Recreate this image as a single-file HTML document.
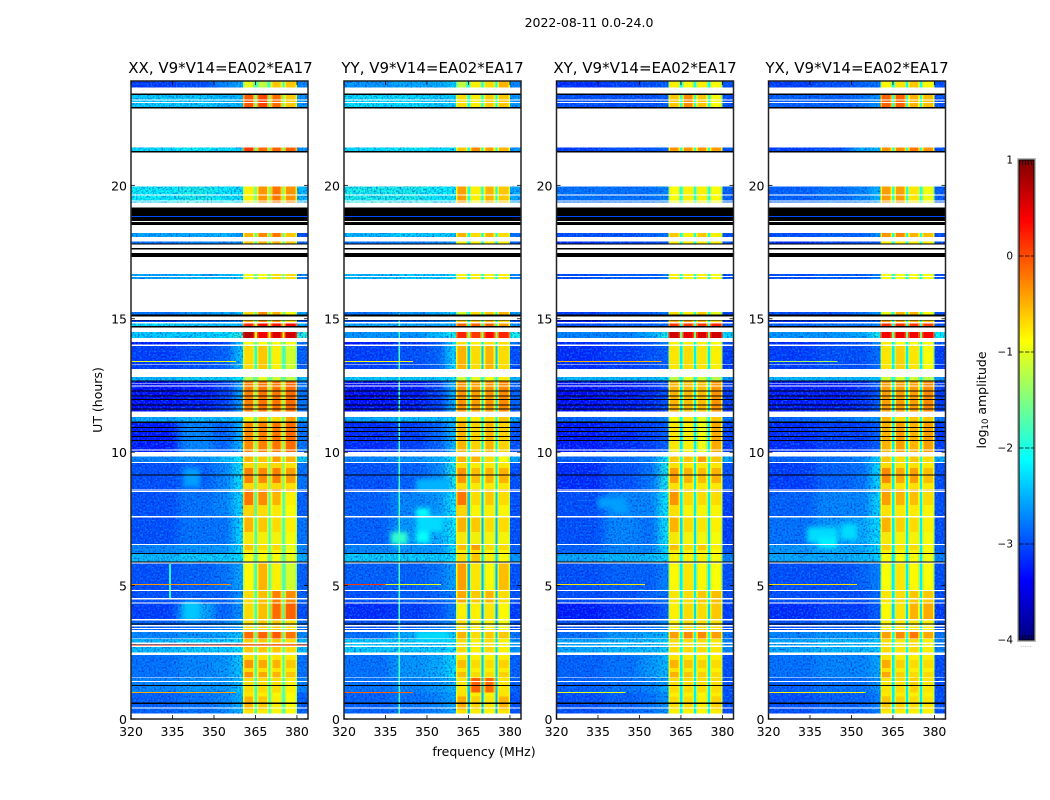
<!DOCTYPE html>
<html lang="en">
<head>
<meta charset="utf-8">
<title>2022-08-11 amplitude waterfall</title>
<style>
html,body{margin:0;padding:0;background:#fff;width:1050px;height:800px;overflow:hidden}
svg{display:block}
text{font-family:"DejaVu Sans","Liberation Sans",sans-serif;fill:#000}
</style>
</head>
<body>
<svg id="chart" xmlns="http://www.w3.org/2000/svg" width="1050" height="800" viewBox="0 0 1050 800">
<defs>
<filter id="speckle" filterUnits="objectBoundingBox" x="0" y="0" width="1" height="1" color-interpolation-filters="sRGB">
<feGaussianBlur in="SourceGraphic" stdDeviation="5 0" result="b"/>
<feComponentTransfer in="b" result="solid"><feFuncA type="linear" slope="40"/></feComponentTransfer>
<feTurbulence type="fractalNoise" baseFrequency="0.55" numOctaves="1" seed="4" result="n"/>
<feColorMatrix in="n" type="matrix" values="0 0 0 0 0  0 0 0 0 0.1  0 0 0 0 0.8  2.2 0 0 0 -1" result="dark"/>
<feColorMatrix in="n" type="matrix" values="0 0 0 0 0  0 0 0 0 0.65  0 0 0 0 1  0 2.2 0 0 -1.05" result="light"/>
<feMerge result="m"><feMergeNode in="solid"/><feMergeNode in="dark"/><feMergeNode in="light"/></feMerge>
<feComposite in="m" in2="solid" operator="in"/>
</filter>
<filter id="soften" x="-40%" y="-40%" width="180%" height="180%" color-interpolation-filters="sRGB">
<feGaussianBlur stdDeviation="2.5"/>
</filter>
</defs>
<text x="589" y="27" font-size="12.5" text-anchor="middle">2022-08-11 0.0-24.0</text>
<text x="484" y="756" font-size="12.5" text-anchor="middle">frequency (MHz)</text>
<text x="0" y="0" font-size="12.5" text-anchor="middle" transform="translate(102,400) rotate(-90)">UT (hours)</text>
<text x="0" y="0" font-size="12.5" text-anchor="middle" transform="translate(986,400) rotate(-90)">log<tspan font-size="8.5" dy="2">10</tspan><tspan dy="-2"> amplitude</tspan></text>
<text x="1026" y="647" font-size="6" fill="#888" text-anchor="middle" style="fill:#888">......</text>
</svg>
<script>
// ---------- chart data ----------
const polarizations = ['XX', 'YY', 'XY', 'YX'];
const baselineLabel = 'V9*V14=EA02*EA17';
const freqTicks = [320, 335, 350, 365, 380];
const hourTicks = [0, 5, 10, 15, 20];
const colorTicks = [1, 0, -1, -2, -3, -4];
// frequency columns (MHz)
const bgEdges = [320, 337, 350, 357, 360.5];
const bandEdges = [[360.5, 364.7], [365.5, 369.7], [370.5, 374.7], [375.5, 380]];
const tailEdges = [380, 384];
// observed time blocks (UT hours)
const blockTop = [23.91,23.45,21.41,19.98,18.22,17.89,16.68,15.25,14.94,14.82,14.51,14.13,13.98,12.82,12.68,11.32,11.13,9.83,9.60,8.51,7.56,6.52,6.18,5.82,4.84,4.32,3.70,3.26,2.99,2.40,1.53,0.99];
const blockBottom = [23.66,22.90,21.25,19.35,18.07,17.80,16.49,15.09,14.87,14.68,14.28,13.98,13.05,12.68,11.52,11.13,10.01,9.60,8.51,7.56,6.52,6.18,5.82,4.84,4.32,3.70,3.26,2.99,2.40,1.53,0.99,0.21];
// log10 amplitude per block: left, mid, right, ramp, band1..band4, tail, notch
const levelsXX = [
[-3.1,-3,-2.7,-2.5,-1,-1.2,-.6,-.6,-2.7,-1.8],
[-2.3,-2.3,-2.4,-2.4,-.05,.05,-.15,-.6,-2.6,-1.5],
[-2.2,-2.1,-2.2,-2.2,.1,-.15,-.1,-.1,-2.6,-1.6],
[-2.1,-2,-2.1,-2.2,-.8,-.35,-.2,-.35,-2.4,-1.5],
[-2.5,-2.5,-2.4,-2.6,-.5,-.3,-.2,-.6,-3,-1.7],
[-2.8,-2.7,-2.7,-2.6,-.6,-.5,-.5,-.6,-2.9,-1.8],
[-2.5,-2.4,-2.4,-2.3,-.9,-.9,-.7,-.7,-2.7,-1.6],
[-2.8,-2.6,-2.5,-2.3,-.7,-.3,-.5,-.9,-2.5,-1.6],
[-3.1,-2.9,-2.8,-2.6,-.5,-.3,-.4,-.7,-3,-1.8],
[-2.2,-2.3,-2.4,-2.4,.2,.35,.3,.35,-2.5,-1.3],
[-2.3,-2.3,-2.2,-1.9,.75,.45,.55,.6,-1.9,-1],
[-3.3,-3.2,-3.1,-2.2,-.9,-.9,-.9,-.9,-2.8,-1.6],
[-3.1,-3,-2.9,-2.3,-.7,-.6,-.8,-1.1,-2.9,-1.9],
[-2.4,-2.3,-2.3,-2.1,-1.2,-1,-1.1,-1.2,-2.4,-1.6],
[-3.4,-3.3,-3.1,-2.5,-.25,-.2,-.2,-.15,-2.8,-1.4],
[-2.5,-2.4,-2.4,-2.3,-.8,-.6,-.7,-.4,-2.4,-1.7],
[-3.3,-2.7,-2.9,-2.4,-.3,-.25,-.2,-.15,-2.8,-1.5],
[-2.7,-2.6,-2.4,-2.1,-.5,-.6,-.4,-.5,-2.3,-1.6],
[-3,-2.9,-2.7,-2.1,-.25,-.3,-.25,-.4,-2.8,-1.6],
[-3,-2.8,-2.7,-2.2,-.2,-.3,-.5,-.8,-2.9,-1.8],
[-3,-2.8,-2.8,-2.2,-.5,-.6,-.7,-.8,-2.8,-1.8],
[-2.7,-2.6,-2.6,-2.2,-.6,-.7,-.7,-1,-2.7,-1.7],
[-2.4,-2.3,-2.3,-2.2,-.9,-.9,-.9,-1,-2.5,-1.7],
[-3,-2.9,-2.8,-2.5,-.85,-.5,-.8,-1.1,-2.9,-1.8],
[-3,-2.9,-2.9,-2.6,-.7,-.55,-.25,-.3,-2.9,-1.8],
[-3.1,-2.5,-2.9,-2.6,-.7,-.55,-.15,-.1,-3,-1.8],
[-2.9,-2.8,-2.7,-2.5,-.7,-.6,-.6,-.7,-2.8,-1.8],
[-2.7,-2.6,-2.5,-2.3,-.15,-.1,-.05,-.2,-2.7,-1.7],
[-2.4,-2.3,-2.3,-2.2,-.6,-.6,-.6,-.7,-2.4,-1.7],
[-2.8,-2.7,-2.6,-2.3,-.35,-.45,-.5,-.6,-2.8,-1.8],
[-2.7,-2.6,-2.6,-2.3,-.7,-.7,-.7,-.8,-2.7,-1.8],
[-2.9,-2.8,-2.7,-2.4,-.5,-.6,-.8,-.9,-2.9,-1.8]];
const levelsYY = [
[-2.6,-2.5,-2.5,-2.3,-1.2,-.8,-.7,-.5,-2.7,-2],
[-2.2,-2.2,-2.3,-2.3,-.7,-.8,-.6,-.6,-2.6,-2],
[-2.2,-2.1,-2.2,-2.2,-.6,-.3,-.4,-.5,-2.6,-2],
[-2,-2,-2.1,-2.1,-.4,-.8,-.5,-.6,-2.5,-2],
[-2.4,-2.3,-2.3,-2.3,-.5,-.7,-.5,-.7,-2.8,-2.1],
[-2.8,-2.7,-2.7,-2.6,-.8,-.8,-.8,-.8,-2.9,-2.2],
[-2.4,-2.3,-2.3,-2.2,-.8,-.8,-.8,-.8,-2.7,-2.1],
[-2.8,-2.6,-2.5,-2.3,-1.1,-.7,-.6,-.5,-2.6,-2],
[-3,-2.9,-2.8,-2.6,-.6,-.6,-.5,-.7,-3,-2.2],
[-2.5,-2.5,-2.5,-2.4,-.1,-.1,-.1,-.4,-2.6,-2],
[-2.6,-2.6,-2.4,-2,.2,.1,.35,.2,-2,-1.4],
[-3.3,-3.2,-3,-2.2,-.7,-.8,-.7,-.7,-2.8,-2.2],
[-3.1,-3,-2.9,-2.2,-.5,-.7,-.5,-.7,-3,-2.4],
[-2.3,-2.3,-2.3,-2.1,-1.1,-1,-.9,-.8,-2.4,-2],
[-3.4,-3.3,-3.1,-2.4,-.35,-.4,-.35,-.3,-2.9,-2.2],
[-2.5,-2.4,-2.4,-2.3,-.7,-.8,-.7,-.6,-2.5,-2.1],
[-3.2,-3.1,-2.9,-2.4,-.5,-.65,-.5,-.65,-3,-2.2],
[-2.7,-2.6,-2.5,-2.1,-.5,-.5,-.7,-.9,-2.5,-2],
[-3,-2.9,-2.7,-2,-.35,-.55,-.5,-.5,-3,-2.2],
[-2.9,-2.7,-2.6,-2.1,-.2,-.7,-.6,-.7,-3,-2.4],
[-2.9,-2.6,-2.5,-2.1,-.5,-.6,-.7,-.7,-3,-2.5],
[-2.7,-2.6,-2.6,-2.2,-.55,-.4,-.7,-.7,-2.9,-2.3],
[-2.3,-2.3,-2.3,-2.2,-.7,-.6,-.8,-.9,-2.6,-2.3],
[-2.9,-2.9,-2.8,-2.5,-.4,-.75,-.85,-.55,-3,-2.5],
[-3,-2.9,-2.9,-2.7,-.45,-.6,-.5,-.7,-3,-2.5],
[-3.2,-3.1,-3,-2.7,-.8,-.8,-.75,-.85,-3.1,-2.6],
[-3,-2.9,-2.8,-2.6,-.7,-.8,-.8,-.9,-3,-2.5],
[-2.8,-2.5,-2.4,-2.3,-.5,-.7,-.6,-.6,-2.8,-2.4],
[-2.3,-2.3,-2.3,-2.2,-.7,-.8,-.7,-.8,-2.6,-2.3],
[-2.8,-2.6,-2.5,-2.2,-.55,-.7,-.7,-.65,-2.9,-2.4],
[-2.8,-2.7,-2.6,-2.4,-.75,-.1,-.15,-.75,-2.9,-2.4],
[-2.9,-2.8,-2.7,-2.5,-.45,-.65,-.75,-.5,-3,-2.5]];
const levelsXY = [
[-3.2,-3.1,-3,-2.9,-.8,-.9,-.8,-.9,-3,-2],
[-3,-3,-3,-2.9,-.6,-.3,-.6,-.9,-3,-1.9],
[-3.1,-3,-3,-2.9,-.35,-.35,-.35,-.4,-3,-1.9],
[-2.8,-2.8,-2.8,-2.7,-.9,-.8,-.8,-.9,-2.9,-1.9],
[-3,-3,-2.9,-2.8,-.6,-.8,-.6,-.8,-3,-2],
[-3.2,-3.1,-3,-3,-.8,-.8,-.8,-.8,-3,-2],
[-3,-2.9,-2.9,-2.8,-.8,-.8,-.8,-.9,-3,-2],
[-3.1,-3,-2.9,-2.8,-.7,-.8,-.6,-1,-3,-2],
[-3.3,-3.1,-3.1,-2.9,-.5,-.4,-.5,-.7,-3.2,-2.1],
[-3,-2.9,-2.9,-2.8,.1,.1,.1,.2,-3,-2],
[-2.7,-2.7,-2.5,-2,.6,.5,.55,.6,-2.2,-1.6],
[-3.2,-3.1,-3,-2.7,-.8,-.8,-.8,-.9,-3,-2.1],
[-3.2,-3.1,-3,-2.9,-.75,-.7,-.75,-.8,-3.1,-2.2],
[-2.4,-2.4,-2.4,-2.3,-1.2,-1,-1.1,-1.2,-2.6,-2],
[-3.4,-3.3,-3.2,-3,-.5,-.55,-.55,-.35,-3.1,-2.2],
[-2.9,-2.8,-2.8,-2.7,-.9,-.75,-1,-.6,-2.8,-2.1],
[-3.3,-3.2,-3.1,-2.9,-.75,-.8,-.95,-.45,-3.1,-2.2],
[-2.9,-2.8,-2.7,-2.1,-.6,-.6,-.4,-.6,-2.5,-2],
[-3.2,-3,-2.8,-2,-.4,-.5,-.55,-.5,-3,-2.2],
[-3,-2.7,-2.7,-2.1,-.35,-.7,-.7,-.7,-3.1,-2.2],
[-3,-2.7,-2.8,-2.1,-.5,-.7,-.75,-.8,-3.1,-2.3],
[-2.9,-2.7,-2.7,-2.2,-.55,-.7,-.6,-.8,-3,-2.2],
[-2.5,-2.4,-2.4,-2.2,-.8,-.8,-.8,-.9,-2.7,-2.1],
[-3,-2.9,-2.9,-2.7,-.85,-.75,-.85,-.9,-3,-2.2],
[-3,-3,-2.9,-2.8,-.75,-.7,-.6,-.55,-3,-2.2],
[-3.3,-3.2,-3.1,-2.9,-.8,-.7,-.7,-.6,-3.1,-2.3],
[-3,-2.9,-2.8,-2.7,-.8,-.7,-.7,-.7,-3,-2.2],
[-2.8,-2.6,-2.5,-2.4,-.4,-.3,-.3,-.4,-2.8,-2.1],
[-2.5,-2.4,-2.4,-2.3,-.7,-.7,-.7,-.75,-2.7,-2.1],
[-2.9,-2.8,-2.6,-2.4,-.5,-.6,-.65,-.7,-3,-2.2],
[-2.9,-2.8,-2.7,-2.5,-.7,-.7,-.7,-.7,-3,-2.2],
[-3,-2.9,-2.8,-2.6,-.7,-.7,-.8,-.65,-3,-2.2]];
const levelsYX = [
[-3.1,-3,-2.9,-2.8,-.85,-.75,-.6,-.85,-3,-2],
[-2.9,-2.9,-2.8,-2.6,-.1,-.1,-.5,-.55,-3,-1.9],
[-3.1,-3,-2.5,-2.4,-.35,-.3,-.2,-.35,-3,-1.9],
[-2.9,-2.8,-2.7,-2.4,-.4,-.4,-.75,-.95,-2.9,-1.9],
[-3,-2.9,-2.9,-2.6,-.35,-.3,-.5,-.55,-3,-2],
[-3.2,-3.1,-3,-2.9,-.8,-.8,-.8,-.8,-3,-2],
[-3,-2.9,-2.9,-2.7,-.9,-.9,-.9,-.9,-3,-2],
[-3,-3,-2.8,-2.6,-1,-.5,-.5,-.9,-3,-2],
[-3.2,-3.1,-3,-2.9,-.4,-.4,-.5,-.6,-3.1,-2.1],
[-2.9,-2.8,-2.8,-2.7,.15,.15,.1,.05,-3,-2],
[-2.6,-2.6,-2.5,-2,.4,.45,.45,.4,-2.1,-1.6],
[-3.2,-3.1,-3,-2.6,-.8,-.9,-.9,-.9,-3,-2.1],
[-3.1,-3,-3,-2.8,-.75,-.65,-.75,-.9,-3.1,-2.2],
[-2.4,-2.4,-2.4,-2.3,-1.1,-1.05,-1.1,-1.2,-2.6,-2],
[-3.3,-3.3,-3.2,-2.9,-.4,-.4,-.4,-.3,-3.1,-2.2],
[-2.9,-2.8,-2.7,-2.6,-.5,-.7,-.6,-.6,-2.8,-2],
[-3.2,-3.1,-3.1,-2.9,-.5,-.4,-.5,-.4,-3.1,-2.2],
[-2.9,-2.8,-2.7,-2.2,-.6,-.7,-.6,-.7,-2.5,-2],
[-3.1,-2.9,-2.8,-2.2,-.3,-.45,-.4,-.55,-3,-2.2],
[-2.9,-2.7,-2.7,-2.2,-.4,-.5,-.55,-.7,-3,-2.2],
[-2.8,-2.6,-2.5,-2.2,-.5,-.65,-.7,-.8,-3,-2.2],
[-2.6,-2.5,-2.5,-2.2,-.65,-.75,-.7,-.85,-2.9,-2.2],
[-2.5,-2.5,-2.4,-2.3,-.9,-.9,-.9,-.95,-2.7,-2.2],
[-3,-3,-2.9,-2.7,-.9,-.75,-.85,-.9,-3,-2.2],
[-3,-3,-3,-2.8,-.75,-.7,-.6,-.6,-3,-2.2],
[-3.2,-3.1,-3.1,-2.9,-.85,-.75,-.5,-.45,-3.1,-2.3],
[-3,-2.9,-2.9,-2.7,-.8,-.75,-.75,-.8,-3,-2.2],
[-2.7,-2.6,-2.6,-2.5,-.4,-.3,-.2,-.45,-2.8,-2.1],
[-2.5,-2.4,-2.4,-2.3,-.7,-.75,-.7,-.8,-2.7,-2.1],
[-2.8,-2.7,-2.7,-2.5,-.45,-.65,-.7,-.7,-3,-2.2],
[-2.9,-2.8,-2.8,-2.6,-.75,-.7,-.65,-.75,-3,-2.2],
[-3,-2.9,-2.9,-2.7,-.6,-.65,-.7,-.75,-3,-2.2]];
const panelLevels = [levelsXX, levelsYY, levelsXY, levelsYX];
// dimmer (yellow) time intervals inside the passbands
const dimTop = [9.6,8.85,8.02,7.0,6.33,2.4,1.91,0.99,0.35];
const dimBottom = [9.41,8.62,7.61,6.56,6.22,2.21,1.76,0.85,0.21];
const dimValue = [-.9,-.9,-.9,-.95,-.9,-.85,-.85,-.85,-.85];
// flagged (white) intervals, hours
const gapTop = [23.66,23.22,23.12,22.9,21.25,19.96,19.65,19.43,19.35,18.67,18.52,18.07,17.78,17.6,17.32,16.6,16.49,15.09,14.87,14.68,14.28,14.03,13.29,13.11,13.05,12.57,12.5,11.52,10.1,10.01,9.64,8.6,8.54,7.61,6.56,5.88,4.84,4.54,4.48,4.36,3.74,3.52,3.41,3.34,3.02,2.86,2.76,2.49,1.56,1.42,0.44,0.21];
const gapBottom = [23.45,23.18,23.08,21.41,19.98,19.93,19.62,19.4,19.16,18.63,18.22,17.89,17.66,17.47,16.68,16.57,15.25,14.94,14.82,14.51,14.13,13.98,13.26,13.05,12.82,12.55,12.47,11.32,10.06,9.83,9.6,8.57,8.51,7.56,6.52,5.82,4.8,4.5,4.46,4.32,3.7,3.47,3.37,3.26,2.99,2.82,2.69,2.4,1.53,1.39,0.4,0];
// zero-amplitude (black) intervals, hours
const nullTop = [23.45,22.93,21.28,19.16,18.82,18.63,17.82,17.66,17.47,15.15,14.96,14.73,12.68,12.31,12.13,12,11.78,11.63,11.14,10.95,10.79,10.6,10.46,9.17,6.22,5.9,3.58,1.28,0.61];
const nullBottom = [23.39,22.88,21.23,18.85,18.67,18.52,17.78,17.6,17.32,15.08,14.93,14.68,12.64,12.27,12.09,11.96,11.74,11.59,11.1,10.91,10.75,10.56,10.42,9.13,6.18,5.86,3.54,1.24,0.57];
// thin RFI streaks: panel, hour, f0, f1, value
const streakPanel = [0,0,0,0,1,1,1,1,2,2,2,3,3,3,0,1,2,3];
const streakHour = [5.04,1,13.39,2.77,5.04,5.04,1,13.39,5.04,13.39,1,5.04,1,13.39,18.84,18.84,18.84,18.84];
const streakStart = [320,320,320,320,320,335,320,320,320,320,320,320,320,320,320,320,320,320];
const streakEnd = [356,358,358,384,335,355,345,345,352,358,345,352,355,345,384,384,384,384];
const streakValue = [-.35,-.45,-1,.2,.1,-1,-.1,-.9,-.75,-.5,-1,-.7,-.8,-1.3,-3,-3,-3,-3];
// localized features: panel, f0, f1, top hour, bottom hour, value
const featPanel = [0,0,0,1,1,1,1,1,1,2,2,3,3,3];
const featF0 = [333.8,339,339,339.7,337,346,346,346,346,340,335,334,338,346];
const featF1 = [334.4,345,345,340.3,343,351,358,356,358,346,345,345,345,352];
const featTop = [5.8,4.4,9.4,15.2,7,7.9,3.3,7.6,9,8,8.3,7.2,6.8,7.3];
const featBottom = [4.5,3.7,8.7,0.2,6.55,6.6,2.9,7,8.5,7.7,7.9,6.6,6.4,6.7];
const featValue = [-2,-2.4,-2.6,-1.8,-1.9,-2.1,-2.3,-2.3,-2.5,-2.6,-2.6,-2.3,-2.2,-2.3];
// ---------- layout ----------
const panelLeft = [131, 344, 556.5, 768.5];
const panelWidth = 177, plotTop = 81, plotBottom = 719, hoursPerPanel = 23.91;
const cbarLeft = 1019, cbarRight = 1034, cbarTop = 160, cbarBottom = 640, vMin = -4, vMax = 1;
const SVG_NS = 'http://www.w3.org/2000/svg';
const svg = document.getElementById('chart');
function xScale(i, f) { return panelLeft[i] + (f - 320) * panelWidth / 64; }
function yScale(h) { return plotBottom - h * (plotBottom - plotTop) / hoursPerPanel; }
function vScale(v) { return cbarBottom - (v - vMin) * (cbarBottom - cbarTop) / (vMax - vMin); }
function clamp(a) { return Math.max(0, Math.min(1, a)); }
function jet(v) {
  const x = clamp((v - vMin) / (vMax - vMin));
  const r = clamp(1.5 - Math.abs(4 * x - 3)), g = clamp(1.5 - Math.abs(4 * x - 2)), b = clamp(1.5 - Math.abs(4 * x - 1));
  return 'rgb(' + Math.round(r * 255) + ',' + Math.round(g * 255) + ',' + Math.round(b * 255) + ')';
}
function node(tag, attrs, parent) {
  const el = document.createElementNS(SVG_NS, tag);
  for (const k in attrs) el.setAttribute(k, attrs[k]);
  parent.appendChild(el);
  return el;
}
function cell(i, f0, f1, top, bottom, fill, parent) {
  return node('rect', { x: xScale(i, f0), y: yScale(top), width: xScale(i, f1) - xScale(i, f0), height: Math.max(0.6, yScale(bottom) - yScale(top)), fill: fill, 'shape-rendering': 'crispEdges' }, parent);
}
polarizations.forEach(function (pol, p) {
  const g = node('g', {}, svg);
  
  
  const bgGroup = node('g', { filter: 'url(#speckle)' }, g);
  
  
  const blobGroup = node('g', { filter: 'url(#soften)' }, g);
  
  
  const bandGroup = node('g', {}, g);
  
  
  panelLevels[p].forEach(function (row, b) {
    for (let c = 0; c < 4; c++) {
      const r = cell(p, bgEdges[c], bgEdges[c + 1], blockTop[b], blockBottom[b], jet(row[c]), bgGroup);
      
      
    }
    const t = cell(p, tailEdges[0], tailEdges[1], blockTop[b], blockBottom[b], jet(row[8]), bgGroup);
    
    
    const n = cell(p, bandEdges[0][0], bandEdges[3][1], blockTop[b], blockBottom[b], jet(row[9]), bandGroup);
    
    
    bandEdges.forEach(function (be, k) {
      const v = row[4 + k];
      const edge = cell(p, be[0], be[1], blockTop[b], blockBottom[b], jet(v - 0.45), bandGroup);
      
      
      const core = cell(p, be[0] + 0.6, be[1] - 0.6, blockTop[b], blockBottom[b], jet(v), bandGroup);
      
      
    });
  });
  dimTop.forEach(function (dt, k) {
    bandEdges.forEach(function (be) {
      const d = cell(p, be[0] + 0.6, be[1] - 0.6, dt, dimBottom[k], jet(dimValue[k]), bandGroup);
      d.setAttribute('opacity', '0.7');
      
      
    });
  });
  featPanel.forEach(function (fp, k) {
    if (fp !== p) return;
    const thin = featF1[k] - featF0[k] < 2;
    const f = cell(p, featF0[k], featF1[k], featTop[k], featBottom[k], jet(featValue[k]), thin ? g : blobGroup);
    
    
  });
  streakPanel.forEach(function (sp, k) {
    if (sp !== p) return;
    const s = cell(p, streakStart[k], streakEnd[k], streakHour[k] + 0.02, streakHour[k] - 0.02, jet(streakValue[k]), g);
    
    
  });
  gapTop.forEach(function (gt, k) {
    const w = cell(p, 320, 384, gt, gapBottom[k], '#fff', g);
    
    
  });
  nullTop.forEach(function (nt, k) {
    const z = cell(p, 320, 384, nt, nullBottom[k], '#000', g);
    
    
  });
  const frame = node('rect', { x: panelLeft[p], y: plotTop, width: panelWidth, height: plotBottom - plotTop, fill: 'none', stroke: '#222', 'stroke-width': 1.5 }, g);
  
  
  freqTicks.forEach(function (f) {
    const x = xScale(p, f);
    const t1 = node('line', { x1: x, x2: x, y1: plotBottom, y2: plotBottom - 4, stroke: '#000', 'stroke-width': 0.8 }, g);
    
    
    const t2 = node('line', { x1: x, x2: x, y1: plotTop, y2: plotTop + 4, stroke: '#000', 'stroke-width': 0.8 }, g);
    
    
    const lab = node('text', { x: x, y: 736, 'font-size': 12.5, 'text-anchor': 'middle' }, g);
    lab.textContent = f;
    
    
  });
  hourTicks.forEach(function (h) {
    const y = yScale(h);
    const t1 = node('line', { x1: panelLeft[p], x2: panelLeft[p] + 4, y1: y, y2: y, stroke: '#000', 'stroke-width': 0.8 }, g);
    
    
    const t2 = node('line', { x1: panelLeft[p] + panelWidth - 4, x2: panelLeft[p] + panelWidth, y1: y, y2: y, stroke: '#000', 'stroke-width': 0.8 }, g);
    
    
    const lab = node('text', { x: panelLeft[p] - 4, y: y + 5, 'font-size': 12.5, 'text-anchor': 'end' }, g);
    lab.textContent = h;
    
    
  });
  const title = node('text', { x: panelLeft[p] + panelWidth / 2 + (p === 0 ? 1 : 0), y: 73, 'font-size': 15, 'text-anchor': 'middle' }, g);
  title.textContent = pol + ', ' + baselineLabel;
  
  
});
// colorbar
const cb = node('g', {}, svg);


const halo = node('rect', { x: cbarLeft - 1, y: cbarTop - 1, width: cbarRight - cbarLeft + 2, height: cbarBottom - cbarTop + 2, fill: 'none', stroke: '#bbb', 'stroke-width': 2 }, cb);


for (let py = cbarTop; py < cbarBottom; py += 2) {
  const v = vMin + (cbarBottom - py - 1) * (vMax - vMin) / (cbarBottom - cbarTop);
  const s = node('rect', { x: cbarLeft, y: py, width: cbarRight - cbarLeft, height: 2, fill: jet(v), 'shape-rendering': 'crispEdges' }, cb);
  
  
}
const cbFrame = node('rect', { x: cbarLeft, y: cbarTop, width: cbarRight - cbarLeft, height: cbarBottom - cbarTop, fill: 'none', stroke: '#000', 'stroke-width': 1 }, cb);


colorTicks.forEach(function (v) {
  const y = vScale(v);
  const lab = node('text', { x: 1013, y: y + 3.5, 'font-size': 10.5, 'text-anchor': 'end' }, cb);
  lab.textContent = v < 0 ? '\u2212' + Math.abs(v) : String(v);
  
  
  if (v !== vMin && v !== vMax) {
    const d = node('line', { x1: cbarLeft, x2: cbarRight, y1: y, y2: y, stroke: '#000', 'stroke-width': 0.8, 'stroke-dasharray': '4.5 1.5' }, cb);
    
    
  } else {
    const d = node('line', { x1: cbarLeft, x2: cbarRight, y1: v === vMax ? y + 2.5 : y - 2.5, y2: v === vMax ? y + 2.5 : y - 2.5, stroke: '#000', 'stroke-width': 5, 'stroke-dasharray': '0.8 2.2' }, cb);
    
    
  }
});
</script>
</body>
</html>
